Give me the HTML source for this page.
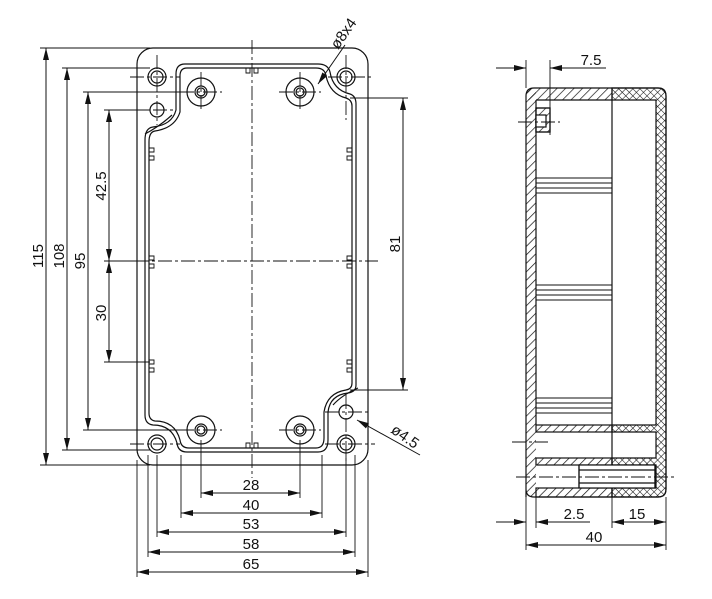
<!DOCTYPE html>
<html><head><style>body{margin:0;background:#fff}svg{display:block}text{font-family:"Liberation Sans",sans-serif;font-size:15px;fill:#111}</style></head><body>
<svg width="712" height="599" viewBox="0 0 712 599" xmlns="http://www.w3.org/2000/svg">
<defs>
<pattern id="h" width="6" height="6" patternUnits="userSpaceOnUse" patternTransform="rotate(45)"><line x1="0" y1="0" x2="0" y2="6" stroke="#111" stroke-width="1.4"/></pattern>
<pattern id="x" width="5" height="5" patternUnits="userSpaceOnUse" patternTransform="rotate(45)"><line x1="0" y1="0" x2="0" y2="5" stroke="#111" stroke-width="1.1"/><line x1="0" y1="0" x2="5" y2="0" stroke="#111" stroke-width="1.1"/></pattern>
<marker id="a" markerWidth="12" markerHeight="6" refX="12" refY="3" orient="auto-start-reverse" markerUnits="userSpaceOnUse"><path d="M0,0 L12,3 L0,6z" fill="#111"/></marker>
</defs>
<g fill="none" stroke="#111" stroke-width="1.2">
<rect x="137" y="48" width="231" height="417" rx="16"/>
<path d="M185,64 H318 Q328,64 330,72 Q333,90 350,94 Q356,96 356,104 V385 Q356,392 348,393 Q330,395 328,412 V440 Q328,452 318,452 H187 Q178,452 177,443 Q172,425 153,425 Q145,424 145,415 V140 Q145,128 153,127 Q172,125 176,110 V74 Q176,64 185,64 Z"/>
<path d="M187,68 H316 Q325,68 326,76 Q330,94 346,98 Q352,100 352,106 V383 Q352,389 346,390 Q327,393 324,412 V438 Q324,448 316,448 H189 Q181,448 180,440 Q175,421 155,421 Q149,420 149,413 V142 Q149,132 155,131 Q175,128 180,112 V76 Q180,68 187,68 Z"/>
<path d="M145,134 Q160,126 172,115 M358,388 Q342,395 333,405" />
<g>
<circle cx="157" cy="77" r="9"/><circle cx="157" cy="77" r="6"/>
<circle cx="346" cy="77" r="9"/><circle cx="346" cy="77" r="6"/>
<circle cx="157" cy="444" r="9"/><circle cx="157" cy="444" r="6"/>
<circle cx="346" cy="444" r="9"/><circle cx="346" cy="444" r="6"/>
<circle cx="157" cy="110" r="7"/><circle cx="346" cy="412" r="7"/>
<circle cx="201" cy="92" r="14"/><circle cx="201" cy="92" r="6"/><circle cx="201" cy="92" r="4"/>
<circle cx="300" cy="92" r="14"/><circle cx="300" cy="92" r="6"/><circle cx="300" cy="92" r="4"/>
<circle cx="201" cy="430" r="14"/><circle cx="201" cy="430" r="6"/><circle cx="201" cy="430" r="4"/>
<circle cx="300" cy="430" r="14"/><circle cx="300" cy="430" r="6"/><circle cx="300" cy="430" r="4"/>
</g>
<path d="M246,68 v5 h4 v-5 M254,68 v5 h4 v-5 M246,448 v-5 h4 v5 M254,448 v-5 h4 v5 M149,148 h5 v4 h-5 M149,156 h5 v4 h-5 M352,148 h-5 v4 h5 M352,156 h-5 v4 h5 M149,256 h5 v4 h-5 M149,264 h5 v4 h-5 M352,256 h-5 v4 h5 M352,264 h-5 v4 h5 M149,360 h5 v4 h-5 M149,368 h5 v4 h-5 M352,360 h-5 v4 h5 M352,368 h-5 v4 h5" stroke-width="0.9"/>
<g stroke-dasharray="14,3,3,3" stroke-width="0.9">
<line x1="252" y1="40" x2="252" y2="478"/><line x1="135" y1="261" x2="378" y2="261"/>
<line x1="130" y1="77" x2="180" y2="77"/><line x1="328" y1="77" x2="372" y2="77"/>
<line x1="130" y1="444" x2="180" y2="444"/><line x1="325" y1="444" x2="375" y2="444"/>
<line x1="130" y1="110" x2="175" y2="110"/><line x1="325" y1="412" x2="370" y2="412"/>
<line x1="180" y1="92" x2="222" y2="92"/><line x1="279" y1="92" x2="321" y2="92"/>
<line x1="180" y1="430" x2="222" y2="430"/><line x1="279" y1="430" x2="321" y2="430"/>
<line x1="201" y1="72" x2="201" y2="112"/><line x1="300" y1="72" x2="300" y2="112"/>
<line x1="157" y1="55" x2="157" y2="125"/><line x1="346" y1="55" x2="346" y2="120"/>
<line x1="346" y1="395" x2="346" y2="465"/>
</g>
<g stroke-width="0.9">
<line x1="40" y1="48" x2="150" y2="48"/><line x1="40" y1="465" x2="150" y2="465"/>
<line x1="62" y1="68" x2="150" y2="68"/><line x1="62" y1="450" x2="150" y2="450"/>
<line x1="83" y1="92" x2="190" y2="92"/><line x1="83" y1="430" x2="190" y2="430"/>
<line x1="104" y1="110" x2="150" y2="110"/><line x1="104" y1="362" x2="150" y2="362"/>
<line x1="104" y1="261" x2="140" y2="261"/>
<line x1="350" y1="98" x2="408" y2="98"/><line x1="350" y1="390" x2="408" y2="390"/>
<line x1="201" y1="440" x2="201" y2="498"/><line x1="300" y1="440" x2="300" y2="498"/>
<line x1="181" y1="455" x2="181" y2="518"/><line x1="322" y1="455" x2="322" y2="518"/>
<line x1="157" y1="455" x2="157" y2="537"/><line x1="346" y1="455" x2="346" y2="537"/>
<line x1="148" y1="455" x2="148" y2="557"/><line x1="355" y1="455" x2="355" y2="557"/>
<line x1="137" y1="460" x2="137" y2="577"/><line x1="368" y1="460" x2="368" y2="577"/>
</g>
<g marker-start="url(#a)" marker-end="url(#a)" stroke-width="1">
<line x1="46" y1="48" x2="46" y2="465"/>
<line x1="67" y1="68" x2="67" y2="450"/>
<line x1="88" y1="92" x2="88" y2="430"/>
<line x1="109" y1="110" x2="109" y2="261"/>
<line x1="109" y1="261" x2="109" y2="362"/>
<line x1="403" y1="98" x2="403" y2="390"/>
<line x1="201" y1="493" x2="300" y2="493"/>
<line x1="181" y1="513" x2="322" y2="513"/>
<line x1="157" y1="532" x2="346" y2="532"/>
<line x1="148" y1="552" x2="355" y2="552"/>
<line x1="137" y1="572" x2="368" y2="572"/>
<line x1="526" y1="545" x2="666" y2="545"/>
</g>
<line x1="318" y1="84" x2="345" y2="45" marker-start="url(#a)" stroke-width="1"/>
<line x1="357" y1="420" x2="420" y2="455" marker-start="url(#a)" stroke-width="1"/>
<path d="M526,497 V96 Q526,88 534,88 H658 Q666,88 666,96 V489 Q666,497 658,497 H534 Q526,497 526,489"/>
<rect x="526" y="88" width="86" height="12" fill="url(#h)" stroke="none"/>
<rect x="526" y="88" width="10" height="409" fill="url(#h)" stroke="none"/>
<path d="M612,88 H658 Q666,88 666,96 V489 Q666,497 658,497 H612 V488 H656 V465 H612 V458 H656 V432 H612 V425 H656 V100 H612 Z" fill="url(#x)"/>
<rect x="536" y="425" width="76" height="7" fill="url(#h)"/>
<rect x="536" y="458" width="76" height="7" fill="url(#h)"/>
<rect x="536" y="488" width="76" height="9" fill="url(#h)"/>
<line x1="536" y1="100" x2="536" y2="425"/><line x1="536" y1="100" x2="612" y2="100"/>
<line x1="612" y1="88" x2="612" y2="497"/>
<rect x="536" y="108" width="14" height="24" fill="#fff"/>
<rect x="536" y="108" width="14" height="24" fill="url(#h)"/>
<rect x="536" y="115" width="10" height="12" fill="#fff"/>
<path d="M536,178 H612 M536,183 H612 M536,188 H612 M536,193 H612 M536,285 H612 M536,290 H612 M536,295 H612 M536,300 H612 M536,398 H612 M536,403 H612 M536,408 H612 M536,413 H612" stroke-width="1"/>
<rect x="579" y="465" width="76" height="23" fill="#fff"/>
<line x1="579" y1="465" x2="579" y2="488"/><line x1="655" y1="465" x2="655" y2="488"/>
<line x1="579" y1="470" x2="655" y2="470"/><line x1="579" y1="483" x2="655" y2="483"/>
<g stroke-dasharray="14,3,3,3" stroke-width="0.9">
<line x1="518" y1="122" x2="560" y2="122"/><line x1="512" y1="442" x2="548" y2="442"/><line x1="516" y1="477" x2="676" y2="477"/>
</g>
<g stroke-width="0.9">
<line x1="526" y1="60" x2="526" y2="88"/><line x1="550" y1="60" x2="550" y2="135"/>
<line x1="526" y1="497" x2="526" y2="550"/><line x1="536" y1="497" x2="536" y2="528"/>
<line x1="612" y1="497" x2="612" y2="528"/><line x1="666" y1="497" x2="666" y2="550"/>
<line x1="496" y1="68" x2="526" y2="68" marker-end="url(#a)"/>
<line x1="606" y1="68" x2="550" y2="68" marker-end="url(#a)"/>
<line x1="496" y1="522" x2="526" y2="522" marker-end="url(#a)"/>
<line x1="590" y1="522" x2="536" y2="522" marker-end="url(#a)"/>
<line x1="612" y1="522" x2="666" y2="522" marker-start="url(#a)" marker-end="url(#a)"/>
</g>
</g>
<text x="43" y="256" transform="rotate(-90 43 256)" text-anchor="middle">115</text>
<text x="64" y="256" transform="rotate(-90 64 256)" text-anchor="middle">108</text>
<text x="85" y="261" transform="rotate(-90 85 261)" text-anchor="middle">95</text>
<text x="106" y="186" transform="rotate(-90 106 186)" text-anchor="middle">42.5</text>
<text x="106" y="313" transform="rotate(-90 106 313)" text-anchor="middle">30</text>
<text x="400" y="244" transform="rotate(-90 400 244)" text-anchor="middle">81</text>
<text x="251" y="490" text-anchor="middle">28</text>
<text x="251" y="510" text-anchor="middle">40</text>
<text x="251" y="529" text-anchor="middle">53</text>
<text x="251" y="549" text-anchor="middle">58</text>
<text x="251" y="569" text-anchor="middle">65</text>
<text x="338" y="50" transform="rotate(-55 338 50)">ø8x4</text>
<text x="390" y="432" transform="rotate(35 390 432)">ø4.5</text>
<text x="591" y="65" text-anchor="middle">7.5</text>
<text x="574" y="519" text-anchor="middle">2.5</text>
<text x="637" y="519" text-anchor="middle">15</text>
<text x="594" y="542" text-anchor="middle">40</text>
</svg>
</body></html>
